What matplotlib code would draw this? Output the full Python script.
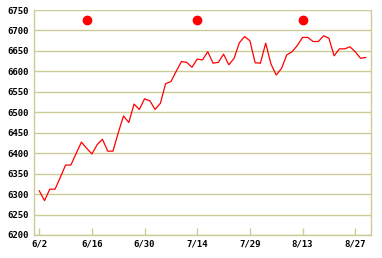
import numpy as np
import matplotlib
matplotlib.use('Agg')
import matplotlib.pyplot as plt

# daily closes
values = [6308, 6284, 6312, 6312, 6341, 6371, 6371, 6399, 6427, 6412,
          6398, 6421, 6434, 6405, 6405, 6450, 6491, 6475, 6520, 6507,
          6533, 6528, 6507, 6522, 6570, 6575, 6600, 6624, 6622, 6610,
          6630, 6628, 6648, 6620, 6622, 6642, 6616, 6632, 6670, 6685,
          6675, 6621, 6620, 6669, 6618, 6591, 6607, 6640, 6648, 6663,
          6683, 6683, 6673, 6673, 6687, 6681, 6638, 6655, 6655, 6660,
          6648, 6632, 6634]
tick_idx = [0, 10, 20, 30, 40, 50, 60]
tick_labels = ['6/2', '6/16', '6/30', '7/14', '7/29', '8/13', '8/27']
dot_idx = [9, 30, 50]
dot_val = [6725, 6725, 6725]
yticks = list(range(6200, 6751, 50))

GRID = '#cccc99'
FONT = dict(family='DejaVu Sans Mono', weight='bold', size=6.5)

fig = plt.figure(figsize=(3.82, 2.58), dpi=100)
ax = fig.add_axes([34/382, 23/258, 337/382, 225/258])

x = np.arange(len(values))
ax.plot(x, values, color='#ff0000', lw=0.9, zorder=3)
ax.plot(dot_idx, dot_val, 'o', color='#ff0000', ms=6, zorder=4)

ax.set_xlim(-1, 63)
ax.set_ylim(6200, 6750)
ax.set_yticks(yticks)
ax.set_yticklabels([str(v) for v in yticks], **FONT)
ax.set_xticks(tick_idx)
ax.set_xticklabels(tick_labels, **FONT)

ax.grid(axis='y', color=GRID, lw=1.0)
ax.set_axisbelow(True)
for s in ax.spines.values():
    s.set_color(GRID)
    s.set_linewidth(1.0)
ax.spines['top'].set_visible(False)

ax.tick_params(axis='x', direction='in', length=5, color=GRID, width=1, pad=3)
ax.tick_params(axis='y', length=0, pad=4)

fig.savefig('out.png', dpi=100)
